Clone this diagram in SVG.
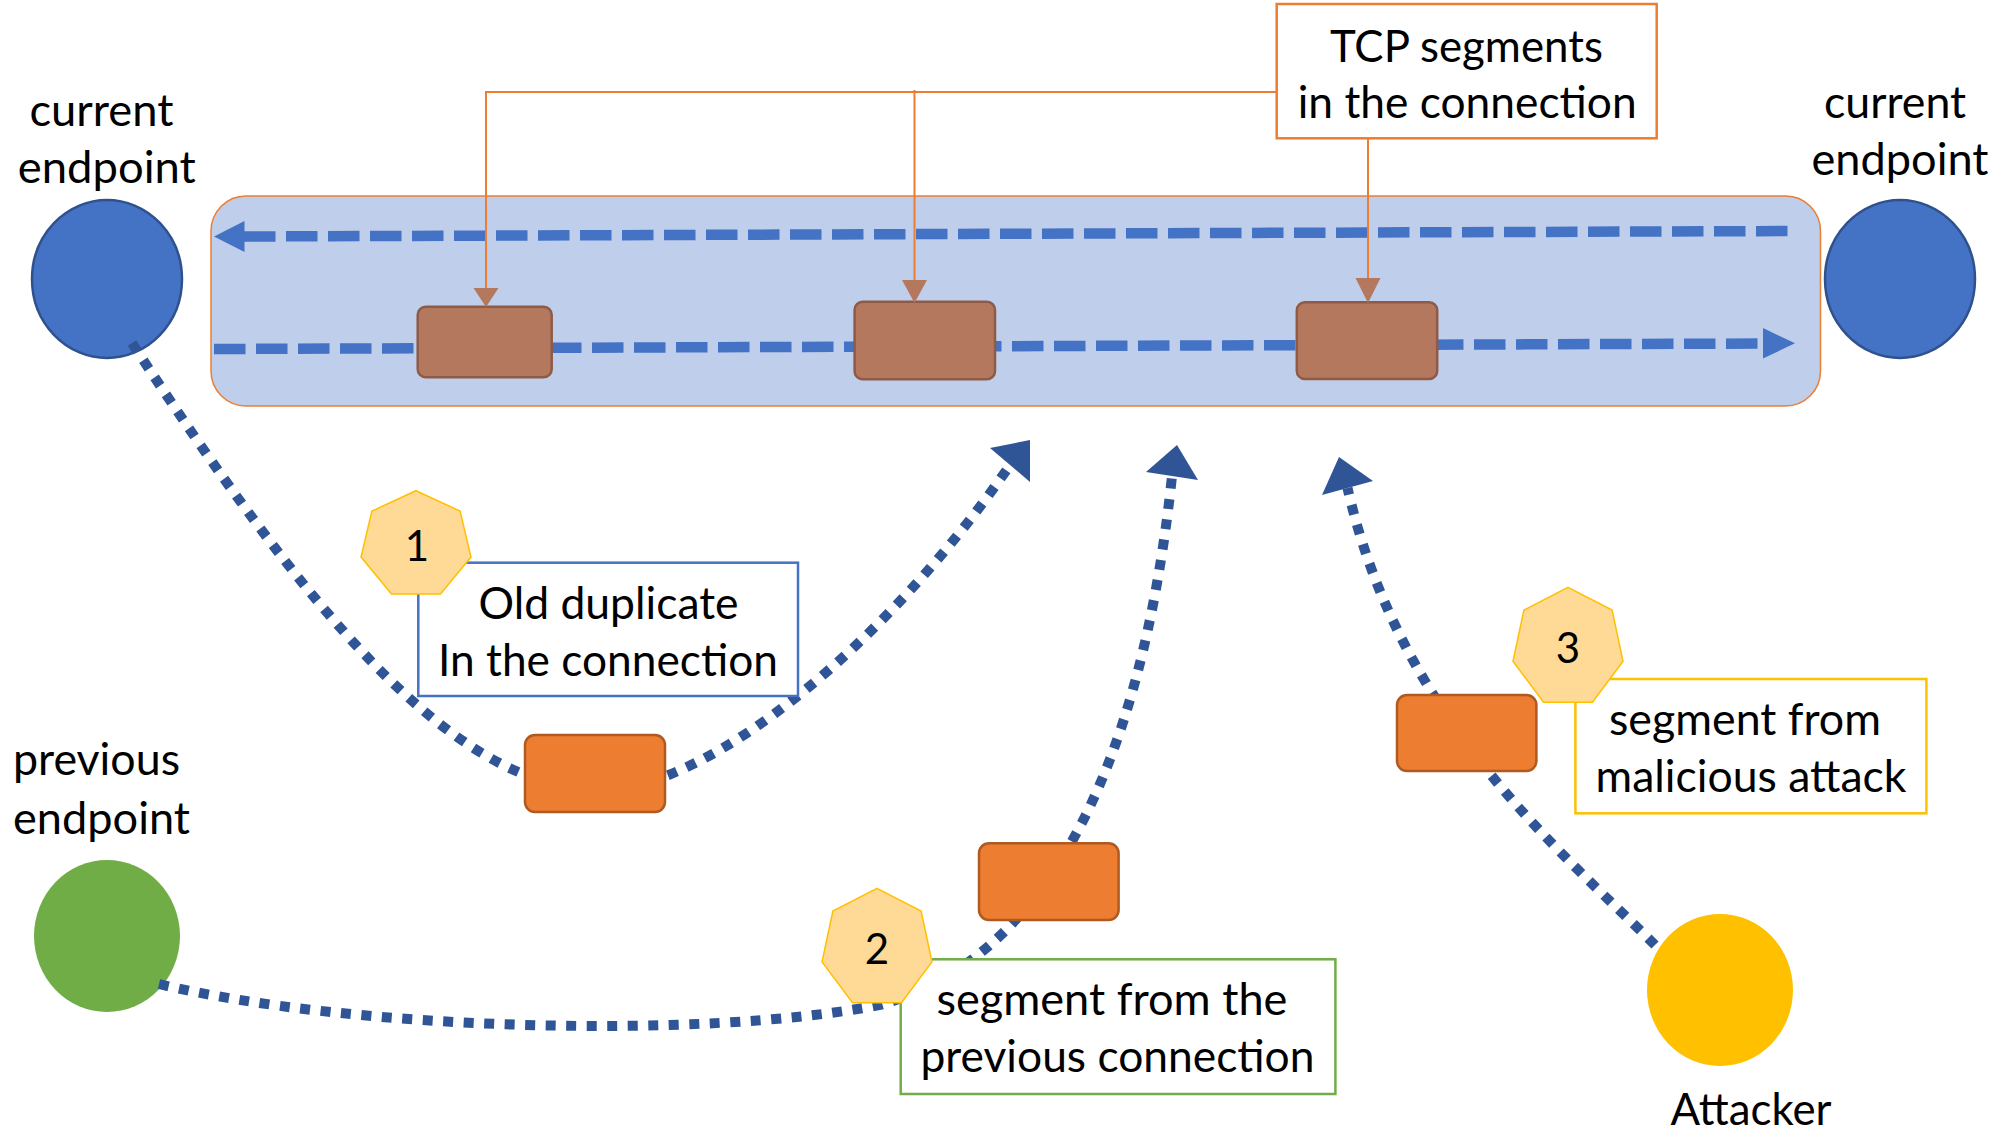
<svg xmlns="http://www.w3.org/2000/svg" width="2005" height="1131" viewBox="0 0 2005 1131">
<style>
.t{font-family:Lato,"Liberation Sans",sans-serif;font-size:44.5px;fill:#000;text-anchor:middle}
.n{font-size:42px}
.ep{fill:#4472C4;stroke:#2F528F;stroke-width:2.5}
.dash{fill:none;stroke:#4472C4;stroke-width:10.5;stroke-dasharray:31.5 10.5}
.dahd{fill:#4472C4}
.dot{fill:none;stroke:#2F5597;stroke-width:10;stroke-dasharray:10 10.5}
.dohd{fill:#2F5597}
.seg{fill:#B4785F;stroke:#8F5A46;stroke-width:2.5}
.pkt{fill:#ED7D31;stroke:#AE5A21;stroke-width:2.5}
.call{fill:none;stroke:#ED7D31;stroke-width:2}
.cahd{fill:#B4785F}
.hep{fill:#FFD996;stroke:#FFC000;stroke-width:1.5}
.lbl{fill:#fff;stroke-width:2.5}
</style>
<rect width="2005" height="1131" fill="#fff"/>
<g id="endpoint-left"><ellipse class="ep" cx="107" cy="279" rx="75" ry="79"/></g>
<g id="endpoint-right"><ellipse class="ep" cx="1900" cy="279" rx="75" ry="79"/></g>
<g id="previous-endpoint"><ellipse cx="107" cy="936" rx="73" ry="76" fill="#70AD47"/></g>
<g id="attacker"><ellipse cx="1720" cy="990" rx="73" ry="76" fill="#FFC000"/></g>
<g id="connection-pipe"><rect x="211" y="196" width="1609.5" height="210" rx="35" fill="#BFCEEA" stroke="#ED7D31" stroke-width="1.5"/></g>
<g id="flows">
<path class="dash" d="M244,236.5 L1795,231"/>
<polygon class="dahd" points="214,236.5 244.5,221 244.5,252"/>
<path class="dash" d="M214,349 L1764,343.5"/>
<polygon class="dahd" points="1795,343.3 1763,328 1763,358.5"/>
</g>
<g id="seg-1"><rect class="seg" x="417.7" y="306.7" width="134" height="70.6" rx="8" stroke="none"/></g>
<g id="seg-2"><rect class="seg" x="854.6" y="301.7" width="140.4" height="77.6" rx="8"/></g>
<g id="seg-3"><rect class="seg" x="1296.8" y="302.3" width="140.4" height="76.7" rx="8"/></g>
<g id="connectors">
<path class="call" d="M1277,92 H486 V290"/>
<polygon class="cahd" points="473.5,288 498.5,288 486,307"/>
<path class="call" d="M914.5,90 V284"/>
<polygon class="cahd" points="902,280 927,280 914.5,303"/>
<path class="call" d="M1368,138 V282"/>
<polygon class="cahd" points="1355.5,278 1380.5,278 1368,303"/>
<path class="dot" d="M132,343 C300,600 450,790 600,790 C710,790 890,640 1010,465"/>
<polygon class="dohd" points="1030,440 990,448 1030,482"/>
<path class="dot" d="M159,984 C350,1030 700,1040 880,1005 C1040,960 1140,780 1172,476"/>
<polygon class="dohd" points="1177,445 1146,472 1198,480"/>
<path class="dot" d="M1655,945 C1560,850 1400,720 1347.5,488"/>
<polygon class="dohd" points="1339,457 1322,495 1373,481"/>
</g>
<g id="packet-1"><rect class="pkt" x="525" y="735" width="140" height="77" rx="10"/></g>
<g id="packet-2"><rect class="pkt" x="979" y="843.3" width="139.6" height="76.7" rx="10"/></g>
<g id="packet-3"><rect class="pkt" x="1397" y="695" width="139.4" height="76" rx="10"/></g>
<g id="label-tcp"><rect class="lbl" x="1276.7" y="4" width="380" height="134.3" stroke="#ED7D31"/>
<text class="t" x="1466.4" y="61.7" textLength="273" lengthAdjust="spacingAndGlyphs">TCP segments</text>
<text class="t" x="1467.2" y="118.3" textLength="339" lengthAdjust="spacingAndGlyphs">in the connection</text></g>
<g id="label-old"><rect class="lbl" x="418.3" y="562.7" width="379.7" height="133.3" stroke="#4472C4"/>
<text class="t" x="608.5" y="619" textLength="260" lengthAdjust="spacingAndGlyphs">Old duplicate</text>
<text class="t" x="608" y="675.7" textLength="340" lengthAdjust="spacingAndGlyphs">In the connection</text></g>
<g id="label-prev"><rect class="lbl" x="900.7" y="959.3" width="434.7" height="134.7" stroke="#70AD47"/>
<text class="t" x="1111.9" y="1015" textLength="351" lengthAdjust="spacingAndGlyphs">segment from the</text>
<text class="t" x="1117.5" y="1071.7" textLength="394" lengthAdjust="spacingAndGlyphs">previous connection</text></g>
<g id="label-mal"><rect class="lbl" x="1575.4" y="679" width="351" height="134.3" stroke="#FFC000" stroke-width="3"/>
<text class="t" x="1745" y="735" textLength="272" lengthAdjust="spacingAndGlyphs">segment from</text>
<text class="t" x="1751" y="791.7" textLength="311" lengthAdjust="spacingAndGlyphs">malicious attack</text></g>
<g id="badge-1"><polygon class="hep" points="416,490.7 460.1,511.1 471,557.1 440.5,593.9 391.5,593.9 361,557.1 371.9,511.1"/>
<text class="t n" x="417" y="560.7">1</text></g>
<g id="badge-2"><polygon class="hep" points="877,888.3 921.1,911 932,961.9 901.5,1002.7 852.5,1002.7 822,961.9 832.9,911"/>
<text class="t n" x="877" y="964">2</text></g>
<g id="badge-3"><polygon class="hep" points="1568,587.3 1612.1,610.1 1623,661.3 1592.5,702.3 1543.5,702.3 1513,661.3 1523.9,610.1"/>
<text class="t n" x="1568" y="663.3">3</text></g>
<g id="texts">
<text class="t" x="101.4" y="126" textLength="144" lengthAdjust="spacingAndGlyphs">current</text>
<text class="t" x="106.8" y="183.3" textLength="178" lengthAdjust="spacingAndGlyphs">endpoint</text>
<text class="t" x="1895" y="118.3" textLength="142" lengthAdjust="spacingAndGlyphs">current</text>
<text class="t" x="1900" y="175" textLength="177" lengthAdjust="spacingAndGlyphs">endpoint</text>
<text class="t" x="13" y="775" style="text-anchor:start" textLength="167" lengthAdjust="spacingAndGlyphs">previous</text>
<text class="t" x="13" y="834" style="text-anchor:start" textLength="177" lengthAdjust="spacingAndGlyphs">endpoint</text>
<text class="t" x="1751" y="1125" textLength="161" lengthAdjust="spacingAndGlyphs">Attacker</text>
</g>
</svg>
